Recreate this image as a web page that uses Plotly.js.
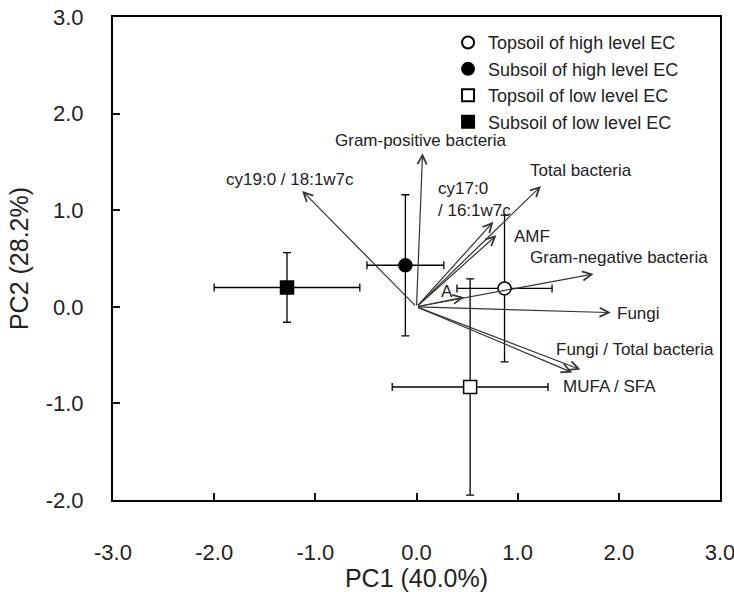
<!DOCTYPE html>
<html>
<head>
<meta charset="utf-8">
<script src="https://cdn.plot.ly/plotly-3.0.1.min.js"></script>
<style>html,body{margin:0;padding:0;background:#fff;}#chart{width:734px;height:592px;}</style>
</head>
<body>
<div id="chart"></div>
<script>
// Sample groups (PCA scores, mean ± SD)
const groups = ['Topsoil of high level EC', 'Subsoil of high level EC', 'Topsoil of low level EC', 'Subsoil of low level EC'];
const pc1 = [0.87, -0.11, 0.53, -1.28];
const pc2 = [0.19, 0.43, -0.83, 0.20];
const pc1Err = [0.47, 0.38, 0.77, 0.72];
const pc2Err = [0.76, 0.73, 1.12, 0.36];

// Variable loadings (arrows from origin)
const variables = ['cy19:0 / 18:1w7c', 'Gram-positive bacteria', 'Total bacteria', 'cy17:0<br>/ 16:1w7c', 'AMF', 'Gram-negative bacteria', 'A', 'Fungi', 'Fungi / Total bacteria', 'MUFA / SFA'];
const loadX = [-1.13, 0.06, 1.23, 0.76, 0.79, 1.75, 0.47, 1.92, 1.62, 1.54];
const loadY = [1.20, 1.59, 1.25, 0.88, 0.74, 0.34, 0.10, -0.06, -0.65, -0.68];

// Axis ticks
const xTickVals = [-3, -2, -1, 0, 1, 2, 3];
const xTickText = ['-3.0', '-2.0', '-1.0', '0.0', '1.0', '2.0', '3.0'];
const yTickVals = [-2, -1, 0, 1, 2, 3];
const yTickText = ['-2.0', '-1.0', '0.0', '1.0', '2.0', '3.0'];

// Label placement for each variable (layout only)
const labelX = [-1.255, 0.04, 1.626, 0.188, 0.939, 1.104, 0.306, 1.96, 1.364, 1.433];
const labelY = [1.315, 1.72, 1.408, 1.11, 0.728, 0.514, 0.158, -0.072, -0.445, -0.825];
const labelAnchor = ['center', 'center', 'center', 'left', 'left', 'left', 'center', 'left', 'left', 'left'];

const symbols = ['circle-open', 'circle', 'square-open', 'square'];
const FONT = 'Arial, Liberation Sans, sans-serif';

const traces = groups.map((g, i) => ({
  type: 'scatter',
  mode: 'markers',
  name: g,
  x: [pc1[i]],
  y: [pc2[i]],
  marker: {
    symbol: symbols[i].replace('-open', ''),
    size: 13,
    color: symbols[i].includes('open') ? '#ffffff' : '#000000',
    line: {color: '#000000', width: 1.5}
  },
  error_x: {type: 'data', array: [pc1Err[i]], color: '#000', thickness: 1.3, width: 4},
  error_y: {type: 'data', array: [pc2Err[i]], color: '#000', thickness: 1.3, width: 4}
}));

const annotations = [];
variables.forEach((v, i) => {
  annotations.push({
    x: loadX[i], y: loadY[i], xref: 'x', yref: 'y',
    ax: 0, ay: 0, axref: 'x', ayref: 'y',
    text: '', showarrow: true,
    arrowhead: 5, arrowsize: 1.5, arrowwidth: 1.2, arrowcolor: '#333333',
    standoff: 0, startstandoff: 0
  });
  annotations.push({
    x: labelX[i], y: labelY[i], xref: 'x', yref: 'y',
    text: v, showarrow: false,
    xanchor: labelAnchor[i], yanchor: 'middle', align: 'left',
    font: {family: FONT, size: 17, color: '#222222'}
  });
});

const layout = {
  width: 734, height: 592,
  margin: {l: 113, r: 14, t: 17, b: 92},
  xaxis: {
    range: [-3, 3], showgrid: false, zeroline: false,
    showline: true, linecolor: '#000', linewidth: 2, mirror: true,
    ticks: 'inside', ticklen: 7, tickwidth: 2, tickcolor: 'rgb(20,20,20)',
    tickmode: 'array', tickvals: xTickVals, ticktext: xTickText,
    ticklabelstandoff: 32, ticklabeloverflow: 'allow',
    tickfont: {family: FONT, size: 22, color: '#222'},
    title: {text: 'PC1 (40.0%)', font: {family: FONT, size: 25, color: '#222'}, standoff: 4}
  },
  yaxis: {
    range: [-2, 3], showgrid: false, zeroline: false,
    showline: true, linecolor: '#000', linewidth: 2, mirror: true,
    ticks: 'inside', ticklen: 7, tickwidth: 2, tickcolor: 'rgb(20,20,20)',
    tickmode: 'array', tickvals: yTickVals, ticktext: yTickText,
    ticklabelstandoff: 23,
    tickfont: {family: FONT, size: 22, color: '#222'},
    title: {text: 'PC2 (28.2%)', font: {family: FONT, size: 25, color: '#222'}, standoff: 10}
  },
  showlegend: true,
  legend: {
    x: 0.552, y: 0.985, xanchor: 'left', yanchor: 'top',
    font: {family: FONT, size: 18, color: '#222'},
    itemsizing: 'constant'
  },
  annotations: annotations
};

Plotly.newPlot('chart', traces, layout, {staticPlot: true});
</script>
</body>
</html>
